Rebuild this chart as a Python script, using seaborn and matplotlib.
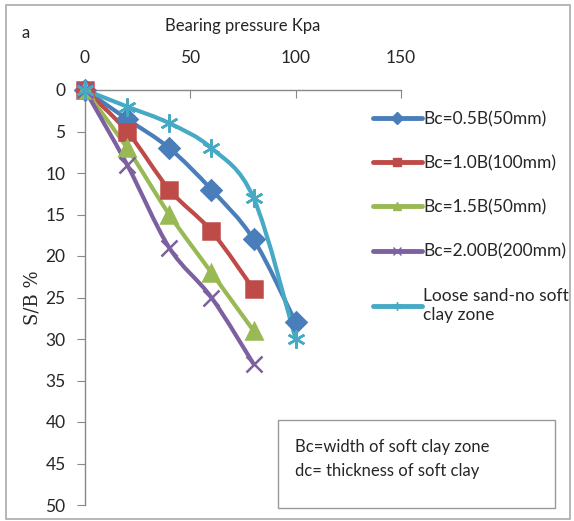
import matplotlib
matplotlib.use("Agg")
import matplotlib.pyplot as plt
import seaborn as sns
import pandas as pd
from matplotlib.patches import Rectangle, PathPatch
from matplotlib.path import Path
from matplotlib.lines import Line2D

sns.set_style("white")
plt.rcParams['font.family'] = ['Lato', 'DejaVu Sans']

# Data
pressure_long = [0, 20, 40, 60, 80, 100]
pressure_short = [0, 20, 40, 60, 80]
sb_05 = [0, 3.5, 7, 12, 18, 28]
sb_10 = [0, 5, 12, 17, 24]
sb_15 = [0, 7, 15, 22, 29]
sb_20 = [0, 9, 19, 25, 33]
sb_loose = [0, 2, 4, 7, 13, 30]

labels = ["Bc=0.5B(50mm)", "Bc=1.0B(100mm)", "Bc=1.5B(50mm)",
          "Bc=2.00B(200mm)", "Loose sand-no soft\nclay zone"]
colors = ["#4A7EBB", "#BE4B48", "#98B954", "#7D60A0", "#46AAC5"]
markers = ["D", "s", "^", "x", (6, 2, 0)]
msizes = [10, 12, 11, 11, 13]
x_ticks = [0, 50, 100, 150]
y_ticks = list(range(0, 51, 5))

series = [(pressure_long, sb_05), (pressure_short, sb_10), (pressure_short, sb_15),
          (pressure_short, sb_20), (pressure_long, sb_loose)]

rows = []
for lab, (xs, ys) in zip(labels, series):
    for x, y in zip(xs, ys):
        rows.append({"p": x, "sb": y, "series": lab})
df = pd.DataFrame(rows)


def smooth_path(xs, ys):
    pts = list(zip(xs, ys))
    n = len(pts)
    verts = [pts[0]]
    codes = [Path.MOVETO]
    for i in range(n - 1):
        p0 = pts[i - 1] if i > 0 else pts[i]
        p1 = pts[i]
        p2 = pts[i + 1]
        p3 = pts[i + 2] if i + 2 < n else pts[i + 1]
        c1 = (p1[0] + (p2[0] - p0[0]) / 6, p1[1] + (p2[1] - p0[1]) / 6)
        c2 = (p2[0] - (p3[0] - p1[0]) / 6, p2[1] - (p3[1] - p1[1]) / 6)
        verts += [c1, c2, p2]
        codes += [Path.CURVE4] * 3
    return Path(verts, codes)


fig = plt.figure(figsize=(5.74, 5.21), dpi=100)
ax = fig.add_axes([85/574, 1-505/521, (401-85)/574, (505-90)/521])

for lab, col, mk, ms in zip(labels, colors, markers, msizes):
    d = df[df["series"] == lab]
    ax.add_patch(PathPatch(smooth_path(d["p"].tolist(), d["sb"].tolist()),
                           facecolor="none", edgecolor=col, lw=3.0,
                           capstyle="round", joinstyle="round", zorder=2))
    sns.lineplot(data=d, x="p", y="sb", ax=ax, color=col, linestyle="", sort=False,
                 marker=mk, markersize=ms, markeredgecolor=col, markeredgewidth=1.8,
                 legend=False, zorder=3, clip_on=False)

ax.set_xlim(0, 150)
ax.set_ylim(50, 0)
ax.set_xticks(x_ticks)
ax.set_yticks(y_ticks)
ax.xaxis.tick_top()
ax.xaxis.set_label_position("top")
ax.tick_params(axis="x", direction="in", length=6, color="#888888", labelsize=12.5, pad=17)
ax.tick_params(axis="y", direction="out", length=6, color="#888888", labelsize=12.5, pad=8, left=True)
ax.set_xlabel("Bearing pressure Kpa", fontsize=12, labelpad=14)
ax.set_ylabel("S/B %", fontsize=13, family=["DejaVu Serif"], labelpad=3)
for s in ["right", "bottom"]:
    ax.spines[s].set_visible(False)
for s in ["top", "left"]:
    ax.spines[s].set_color("#888888")
    ax.spines[s].set_linewidth(1.0)
ax.set_facecolor("white")

handles = [Line2D([], [], color=c, lw=3.5, marker=m, markersize=6, markeredgecolor=c)
           for c, m in zip(colors, markers)]
fig.legend(handles, labels, loc="upper left", bbox_to_anchor=(366/574, 1-104/521),
           frameon=False, fontsize=12.5, handlelength=2.8, handletextpad=0.1,
           labelspacing=1.62, borderaxespad=0)

fig.text(22/574, 1-33/521, "a", fontsize=12, va="center", ha="left")

fig.add_artist(Rectangle((278/574, 1-508/521), (555-278)/574, (508-420)/521,
                         transform=fig.transFigure, fill=False, edgecolor="#999999", lw=1))
fig.text(295/574, 1-447/521, "Bc=width of soft clay zone", fontsize=12, va="center")
fig.text(295/574, 1-471/521, "dc= thickness of soft clay", fontsize=12, va="center")

fig.add_artist(Rectangle((6/574, 2/521), 564/574, 514/521, transform=fig.transFigure,
                         fill=False, edgecolor="#aaaaaa", lw=1.2))

fig.savefig("out.png", dpi=100)
